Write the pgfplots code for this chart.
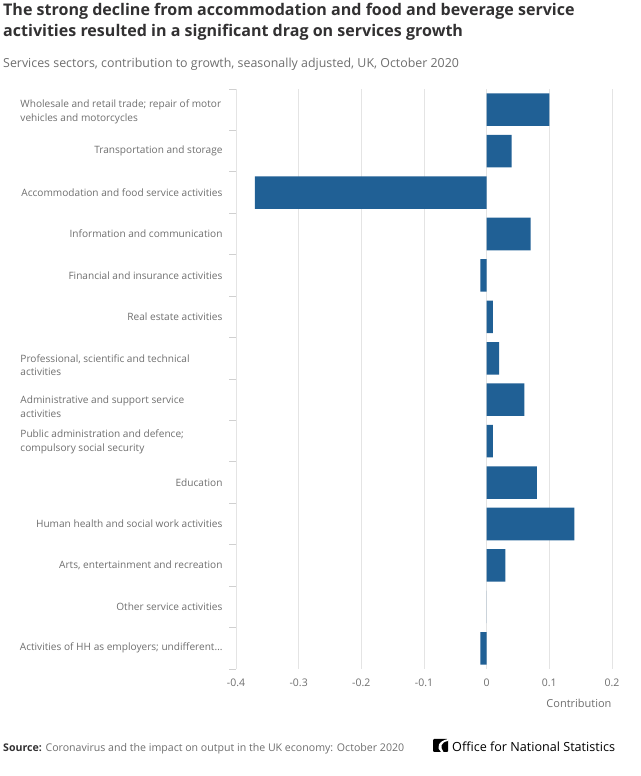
\documentclass[border=0pt]{standalone}
\usepackage{fontspec}
\setmainfont{Open Sans}
\usepackage{pgfplots}
\pgfplotsset{compat=1.18}
\definecolor{onsblue}{HTML}{206095}
\definecolor{txtgray}{HTML}{6E6E6E}
\definecolor{titlecol}{HTML}{323132}
\definecolor{gridgray}{HTML}{E4E4E4}
\definecolor{axgray}{HTML}{D0D0D0}
\newcommand{\twoline}[3]{\raisebox{#1}[\height][\depth]{\parbox{202pt}{\raggedright #2\\#3}}}
\begin{document}
\begin{tikzpicture}[x=1pt,y=1pt]
\path[use as bounding box] (0,0) rectangle (640,776);
\node[anchor=base west, font=\fontsize{16.05}{19}\selectfont\bfseries, text=titlecol, inner sep=0] at (3,760) {The strong decline from accommodation and food and beverage service};
\node[anchor=base west, font=\fontsize{16.05}{19}\selectfont\bfseries, text=titlecol, inner sep=0] at (3,739) {activities resulted in a significant drag on services growth};
\node[anchor=base west, font=\fontsize{12.4}{14}\selectfont, text=txtgray, inner sep=0] at (3,708) {Services sectors, contribution to growth, seasonally adjusted, UK, October 2020};
\begin{axis}[
  at={(236pt,107pt)}, anchor=south west, scale only axis,
  width=376pt, height=580pt,
  xbar, bar width=0.785,
  xmin=-0.4, xmax=0.2, ymin=-0.5, ymax=13.5, y dir=reverse,
  xtick={-0.4,-0.3,-0.2,-0.1,0,0.1,0.2},
  xticklabels={-0.4,-0.3,-0.2,-0.1,0,0.1,0.2},
  xmajorgrids, grid style={gridgray, line width=0.8pt},
  axis line style={draw=none},
  ytick={0,1,2,3,4,5,6,7,8,9,10,11,12,13},
  minor ytick={-0.5,0.5,1.5,2.5,3.5,4.5,5.5,6.5,7.5,8.5,9.5,10.5,11.5,12.5,13.5},
  major tick length=0pt, minor tick length=7pt, tick align=outside,
  ytick pos=left, xtick pos=bottom,
  minor tick style={axgray, line width=0.8pt},
  xticklabel style={font=\fontsize{10.5}{12}\selectfont, text=txtgray, yshift=-6pt},
  yticklabel style={font=\fontsize{10.1}{13.6}\selectfont, text=txtgray, anchor=east, align=right, xshift=-10pt},
  yticklabels={
    {\twoline{-2pt}{Wholesale and retail trade; repair of motor}{vehicles and motorcycles}},
    Transportation and storage,
    Accommodation and food service activities,
    Information and communication,
    Financial and insurance activities,
    Real estate activities,
    {\twoline{-7pt}{Professional, scientific and technical}{activities}},
    {\twoline{-7pt}{Administrative and support service}{activities}},
    {\twoline{-1pt}{Public administration and defence;}{compulsory social security}},
    Education,
    Human health and social work activities,
    {Arts, entertainment and recreation},
    Other service activities,
    {Activities of HH as employers; undifferent\ldots}
  },
  xlabel={Contribution},
  xlabel style={at={(axis description cs:1,0)}, anchor=north east, font=\fontsize{11}{13}\selectfont, text=txtgray, yshift=-27pt, xshift=3pt},
]
\addplot[fill=onsblue, draw=none] coordinates {
  (0.10,0) (0.04,1) (-0.37,2) (0.07,3) (-0.01,4) (0.01,5) (0.02,6)
  (0.06,7) (0.01,8) (0.08,9) (0.14,10) (0.03,11) (0,12) (-0.01,13)
};
\end{axis}
\node[anchor=base west, font=\fontsize{10.6}{12}\selectfont, text=txtgray, inner sep=0] at (3,24) {\textbf{\color{titlecol}Source:} Coronavirus and the impact on output in the UK economy: October 2020};
\fill[black, rounded corners=1pt] (433,24) rectangle (448,37);
\fill[white] (448,37) .. controls (438,35) and (436,28) .. (441,24) -- (443.5,24) .. controls (439.5,29) and (441,34) .. (448,35) -- cycle;
\node[anchor=base west, font=\fontsize{12.6}{14}\selectfont, text=black, inner sep=0] at (452,24) {Office for National Statistics};
\end{tikzpicture}
\end{document}
